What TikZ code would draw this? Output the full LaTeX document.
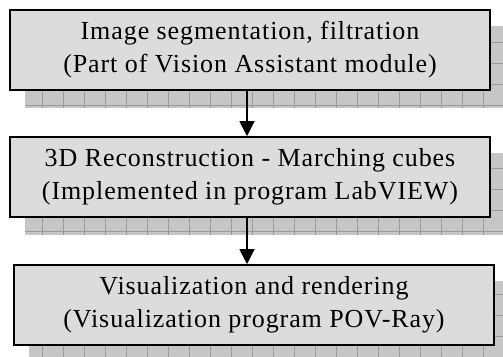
\documentclass[tikz,border=0pt]{standalone}
\usepackage{fontspec}
\setmainfont{Liberation Serif}
\usetikzlibrary{backgrounds,arrows.meta}

\definecolor{boxgray}{HTML}{DCDCDC}
\definecolor{shadegray}{HTML}{C6C6C6}
\definecolor{shadeline}{HTML}{9A9A9A}

\tikzset{
  stage/.style={draw, line width=1.6pt, fill=boxgray, minimum width=480pt,
    minimum height=80pt, inner sep=0pt, align=center,
    font=\fontsize{26}{33}\selectfont\addfontfeatures{LetterSpace=3.5}},
  flow/.style={-{Triangle[length=15pt,width=15pt]}, line width=1.2pt}
}

% draws the hatched drop shadow of a stage box
\newcommand{\stageshadow}[1]{%
  \begin{scope}
    \clip ([shift={(16pt,-17pt)}]#1.south west) rectangle ([shift={(16pt,-17pt)}]#1.north east);
    \fill[shadegray] ([shift={(16pt,-17pt)}]#1.south west) rectangle ([shift={(16pt,-17pt)}]#1.north east);
    \draw[shadeline, line width=0.5pt, step=21pt] (0,0) grid (520,370);
  \end{scope}}

\begin{document}
\begin{tikzpicture}[x=1pt, y=-1pt]
  \useasboundingbox (0,0) rectangle (503,356);

  \node[stage] (seg) at (250,50) {Image segmentation, filtration\\(Part of Vision Assistant module)};
  \node[stage] (rec) at (250,177) {3D Reconstruction - Marching cubes\\(Implemented in program LabVIEW)};
  \node[stage] (vis) at (254,305) {Visualization and rendering\\(Visualization program POV-Ray)};

  \draw[flow] (seg.south -| 247,0) -- (rec.north -| 247,0);
  \draw[flow] (rec.south -| 247,0) -- (vis.north -| 247,0);

  \begin{scope}[on background layer]
    \stageshadow{seg}
    \stageshadow{rec}
    \stageshadow{vis}
  \end{scope}
\end{tikzpicture}
\end{document}
